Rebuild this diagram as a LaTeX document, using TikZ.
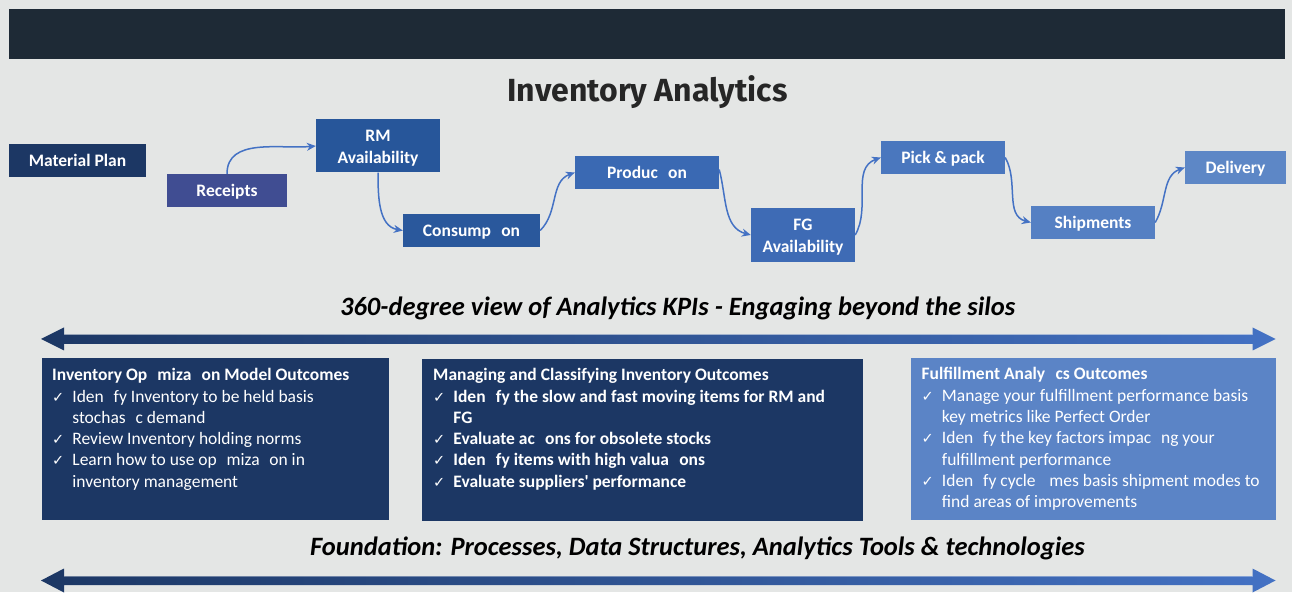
\documentclass[tikz,border=0pt]{standalone}
\usepackage{fontspec}
\setmainfont{Carlito}
\newfontfamily\qfont{Carlito}[Ligatures=TeXOff]
\newfontfamily\titlefont{Fira Sans}
\newfontfamily\symfont{DejaVu Sans}
\usetikzlibrary{arrows.meta}
\definecolor{bgc}{HTML}{E4E6E5}
\definecolor{barc}{HTML}{1E2A36}
\definecolor{titc}{HTML}{262626}
\definecolor{navy}{HTML}{1C3764}
\definecolor{cRec}{HTML}{404D92}
\definecolor{cRM}{HTML}{27569A}
\definecolor{cCon}{HTML}{2A589C}
\definecolor{cPro}{HTML}{3A69B3}
\definecolor{cFG}{HTML}{3E6BB5}
\definecolor{cPick}{HTML}{4A77BE}
\definecolor{cShip}{HTML}{5580C3}
\definecolor{cDel}{HTML}{5D87C6}
\definecolor{cBox}{HTML}{5B84C6}
\definecolor{arc}{HTML}{4472C4}
\newcommand\ck{\makebox[20.2pt][l]{\symfont\fontsize{14.5}{14.5}\selectfont ✓}}
\newcommand\ind{\hspace*{20.2pt}}
\newcommand\gap{\phantom{ti}}
\begin{document}
\begin{tikzpicture}[x=1pt,y=1pt,
  stepbox/.style={rectangle, inner sep=0pt, text=white, align=center,
    font=\fontsize{17.5}{22}\selectfont\bfseries},
  oneline/.style={stepbox, text depth=0pt},
  flow/.style={draw=arc, line width=1.5pt, -{Stealth[length=9pt,width=8pt]}},
  bigbox/.style={rectangle, inner sep=0pt, anchor=north west},
  boxtext/.style={anchor=base west, inner sep=0pt, text=white}
]
\useasboundingbox (0,0) rectangle (1292,592);
\fill[bgc] (0,0) rectangle (1292,592);
\fill[barc] (9,583) rectangle (1285,533);
\node[anchor=base, text=titc, inner sep=0] (title) at (647.5,490.5)
  {\titlefont\fontsize{32}{32}\selectfont\bfseries Inventory Analytics};

% process boxes
\node[oneline, fill=navy, minimum width=137pt, minimum height=33pt] (mp) at (77.5,431.5) {Material Plan};
\node[oneline, fill=cRec, minimum width=120pt, minimum height=33pt] (rec) at (227,401.5) {Receipts};
\node[stepbox, fill=cRM, minimum width=124pt, minimum height=53pt] (rm) at (378,446) {\rule{0pt}{15.5pt}RM\\Availability};
\node[oneline, fill=cCon, minimum width=137pt, minimum height=33pt] (con) at (471.5,361.5) {Consump\gap on};
\node[oneline, fill=cPro, minimum width=144pt, minimum height=32.5pt] (pro) at (647,419.5) {Produc\gap on};
\node[stepbox, fill=cFG, minimum width=104pt, minimum height=53.5pt] (fg) at (803,357) {\rule{0pt}{16.5pt}FG\\Availability};
\node[oneline, fill=cPick, minimum width=124pt, minimum height=32.5pt] (pick) at (943,434.5) {Pick \& pack};
\node[oneline, fill=cShip, minimum width=124pt, minimum height=32.5pt] (ship) at (1093,369.5) {Shipments};
\node[oneline, fill=cDel, minimum width=101pt, minimum height=32.5pt] (del) at (1235.5,424.5) {Delivery};

% connectors
\draw[flow] (rec.north) to[out=90,in=185] (rm.west);
\draw[flow] (rm.south) to[out=-90,in=170] (con.west);
\draw[flow] (con.east) to[out=45,in=200] (pro.west);
\draw[flow] ([yshift=3pt]pro.east) to[out=-75,in=165] (fg.west);
\draw[flow] (fg.east) to[out=60,in=200] (pick.west);
\draw[flow] (pick.east) to[out=-60,in=165] (ship.west);
\draw[flow] (ship.east) to[out=60,in=200] (del.west);

% subtitle 1 and arrow
\node[anchor=base, inner sep=0, text=black] (sub1) at (677.7,276)
  {\fontsize{26.5}{26.5}\selectfont\bfseries\itshape 360-degree view of Analytics KPIs - Engaging beyond the silos};
\shade[left color=navy, right color=arc]
  (41,253) -- (64,264.5) -- (64,257.5) -- (1252.5,257.5) -- (1252.5,264.5) -- (1275.5,253)
  -- (1252.5,241.5) -- (1252.5,248) -- (64,248) -- (64,241.5) -- cycle;
\draw[white, opacity=0.35, line width=1pt] (64,257) -- (1252.5,257);

% bottom boxes
\node[bigbox, fill=navy, minimum width=347pt, minimum height=162pt] (b1) at (42,234) {};
\node[bigbox, fill=navy, minimum width=441pt, minimum height=161.5pt] (b2) at (422,233) {};
\node[bigbox, fill=cBox, minimum width=365pt, minimum height=162pt] (b3) at (911,234) {};

\node[boxtext] (t1) at (52,211.3) {\parbox[t]{335pt}{\fontsize{17.5}{21.3}\selectfont\raggedright
\textbf{Inventory Op\gap miza\gap on Model Outcomes}\\
\ck Iden\gap fy Inventory to be held basis\\
\ind stochas\gap c demand\\
\ck Review Inventory holding norms\\
\ck Learn how to use op\gap miza\gap on in\\
\ind inventory management}};

\node[boxtext] (t2) at (433,211.3) {\parbox[t]{425pt}{\fontsize{17.5}{21.3}\selectfont\raggedright\bfseries
Managing and Classifying Inventory Outcomes\\
\ck Iden\gap fy the slow and fast moving items for RM and\\
\ind FG\\
\ck Evaluate ac\gap ons for obsolete stocks\\
\ck Iden\gap fy items with high valua\gap ons\\
\ck Evaluate suppliers{\qfont\bfseries '} performance}};

\node[boxtext] (t3) at (921.5,212) {\parbox[t]{350pt}{\fontsize{17.5}{21.3}\selectfont\raggedright
\textbf{Fulfillment Analy\gap cs Outcomes}\\
\ck Manage your fulfillment performance basis\\
\ind key metrics like Perfect Order\\
\ck Iden\gap fy the key factors impac\gap ng your\\
\ind fulfillment performance\\
\ck Iden\gap fy cycle \gap mes basis shipment modes to\\
\ind find areas of improvements}};

% subtitle 2 and arrow
\node[anchor=base, inner sep=0, text=black] (sub2) at (697.5,37)
  {\fontsize{26.5}{26.5}\selectfont\bfseries\itshape Foundation: Processes, Data Structures, Analytics Tools \& technologies};
\shade[left color=navy, right color=arc]
  (41,11.5) -- (64,23.5) -- (64,16) -- (1252.5,16) -- (1252.5,23.5) -- (1275.5,11.5)
  -- (1252.5,-0.5) -- (1252.5,7) -- (64,7) -- (64,-0.5) -- cycle;
\draw[white, opacity=0.35, line width=1pt] (64,15.5) -- (1252.5,15.5);
\end{tikzpicture}
\end{document}
